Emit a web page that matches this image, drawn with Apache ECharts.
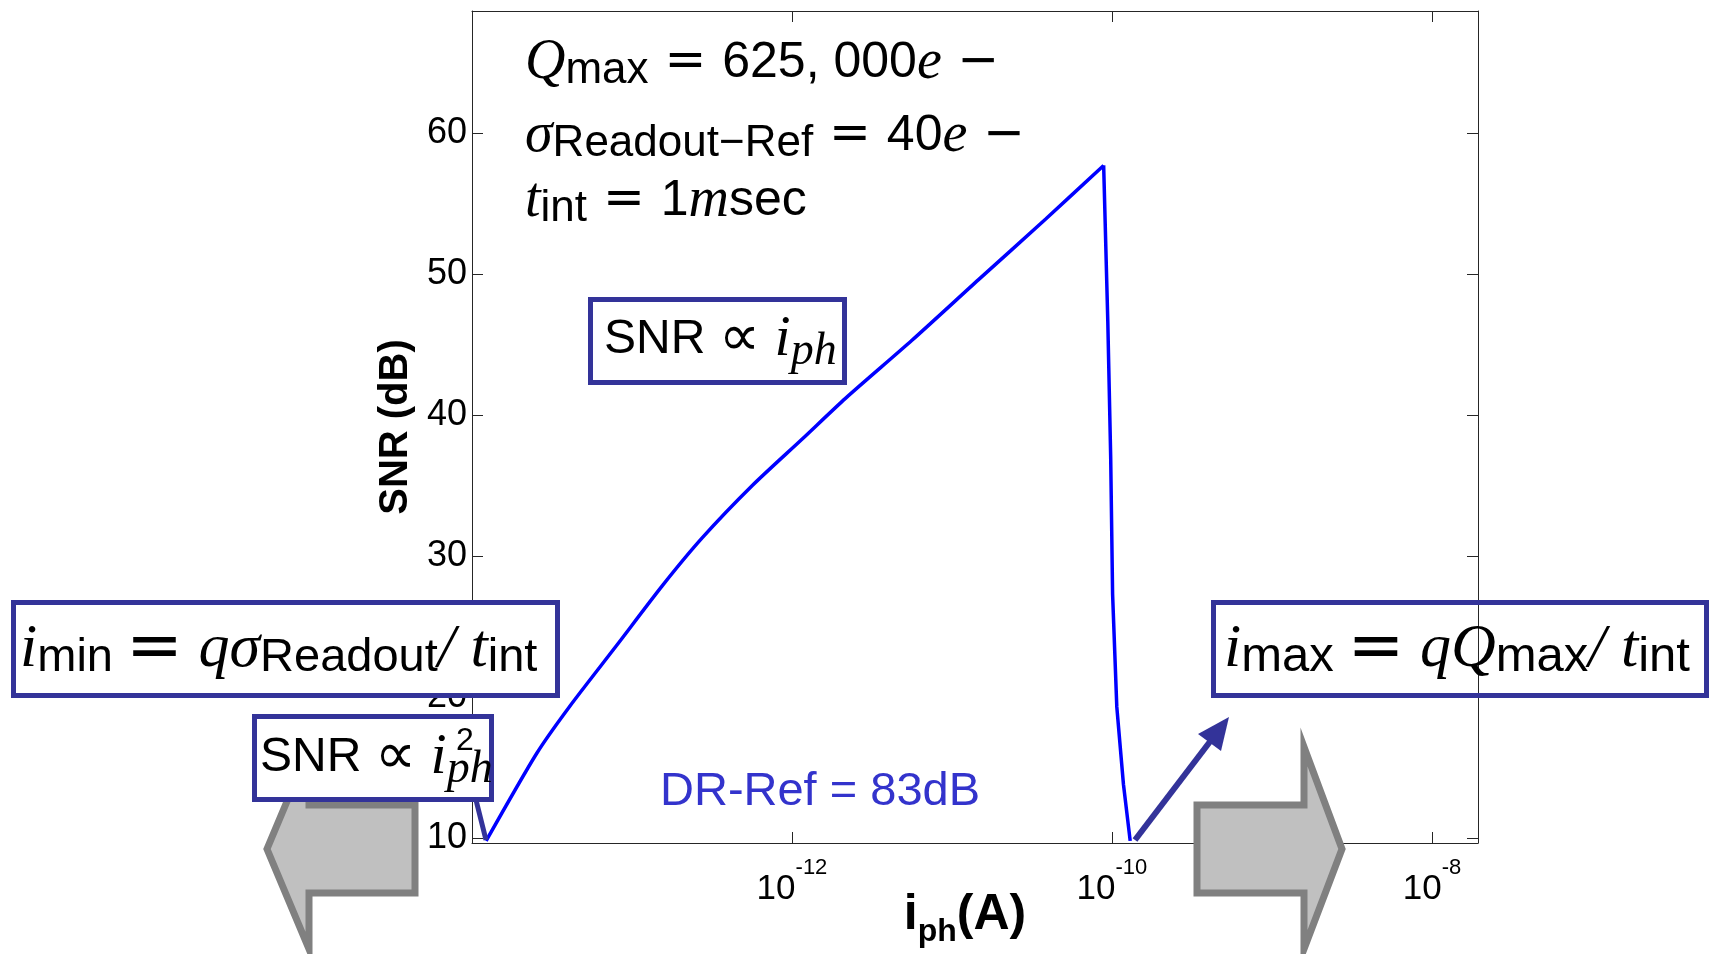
<!DOCTYPE html>
<html>
<head>
<meta charset="utf-8">
<title>SNR vs photocurrent</title>
<script src="https://cdn.jsdelivr.net/npm/echarts@6/dist/echarts.min.js"></script>
<style>
  html, body { margin: 0; padding: 0; background: #fff; }
  #chart { width: 1711px; height: 954px; }
</style>
</head>
<body>
<div id="chart"></div>
<script>
// photocurrent (A) and SNR (dB); index 12 is the peak
var currentA = [1.225e-14, 2.535e-14, 4.055e-14, 7.943e-14, 1.549e-13, 2.754e-13, 5.649e-13,
    1.159e-12, 2.168e-12, 5.623e-12, 1.466e-11, 3.855e-11, 8.872e-11,
    9.419e-11, 9.817e-11, 1.009e-10, 1.072e-10, 1.180e-10, 1.300e-10];
var snrDb = [9.8, 16.0, 19.3, 23.6, 27.9, 31.3, 35.0,
    38.3, 41.2, 45.3, 49.6, 53.9, 57.7,
    46.6, 37.0, 27.3, 19.3, 13.8, 9.8];
var peakIndex = 12;
var xTickValues = [1e-12, 1e-10, 1e-8];
var yTickValues = [10, 20, 30, 40, 50, 60];

var BOX = '#333399';
var SANS = 'Liberation Sans';

function mathRich(it, rm, sub, lh, op) {
    return {
        it: {fontFamily: 'Liberation Serif', fontStyle: 'italic', fontSize: it, lineHeight: lh, verticalAlign: 'middle', color: '#000'},
        rm: {fontFamily: SANS, fontSize: rm, lineHeight: lh, verticalAlign: 'middle', color: '#000'},
        op: {fontFamily: 'DejaVu Sans', fontSize: op || rm, lineHeight: lh, verticalAlign: 'middle', color: '#000'},
        sub: {fontFamily: SANS, fontSize: sub, lineHeight: sub, verticalAlign: 'bottom', color: '#000'},
        isub: {fontFamily: 'Liberation Serif', fontStyle: 'italic', fontSize: sub, lineHeight: sub, verticalAlign: 'bottom', color: '#000'}
    };
}

function mathText(x, y, text, rich) {
    return {
        type: 'text', x: x, y: y, z: 120,
        style: {text: text, rich: rich, align: 'left', verticalAlign: 'middle'}
    };
}

// rising part is drawn smooth, the drop after the peak straight
var rising = [], falling = [];
for (var i = 0; i < currentA.length; i++) {
    if (i <= peakIndex) rising.push([currentA[i], snrDb[i]]);
    if (i >= peakIndex) falling.push([currentA[i], snrDb[i]]);
}

var chart = echarts.init(document.getElementById('chart'));

var axisLineStyle = {color: '#262626', width: 1};

var option = {
    animation: false,
    grid: {left: 472, right: 233, top: 11, bottom: 111, containLabel: false, outerBoundsMode: 'none'},
    xAxis: [{
        type: 'log',
        min: 1e-14,
        max: 1.94e-8,
        axisLine: {show: true, onZero: false, lineStyle: axisLineStyle},
        axisTick: {show: true, inside: true, length: 11, customValues: xTickValues, lineStyle: axisLineStyle},
        minorTick: {show: false},
        splitLine: {show: false},
        axisLabel: {
            customValues: xTickValues,
            margin: 14,
            formatter: function (v) {
                return '{b|10}{s|' + Math.round(Math.log10(v)) + '}';
            },
            rich: {
                b: {fontFamily: SANS, fontSize: 35, lineHeight: 50, verticalAlign: 'bottom', color: '#000'},
                s: {fontFamily: SANS, fontSize: 22, lineHeight: 22, verticalAlign: 'top', color: '#000'}
            }
        },
        name: '{b|i}{s|ph}{b|(A)}',
        nameLocation: 'middle',
        nameGap: 47,
        nameMoveOverlap: false,
        nameTextStyle: {
            padding: [0, 20, 0, 0],
            rich: {
                b: {fontFamily: SANS, fontWeight: 'bold', fontSize: 50, lineHeight: 58, verticalAlign: 'top', color: '#000'},
                s: {fontFamily: SANS, fontWeight: 'bold', fontSize: 32, lineHeight: 32, verticalAlign: 'bottom', color: '#000'}
            }
        }
    }, {
        type: 'log',
        position: 'top',
        min: 1e-14,
        max: 1.94e-8,
        axisLine: {show: true, onZero: false, lineStyle: axisLineStyle},
        axisTick: {show: true, inside: true, length: 11, customValues: xTickValues, lineStyle: axisLineStyle},
        minorTick: {show: false},
        splitLine: {show: false},
        axisLabel: {show: false}
    }],
    yAxis: [{
        type: 'value',
        min: 9.65,
        max: 68.65,
        axisLine: {show: true, lineStyle: axisLineStyle},
        axisTick: {show: true, inside: true, length: 11, customValues: yTickValues, lineStyle: axisLineStyle},
        splitLine: {show: false},
        axisLabel: {customValues: yTickValues, margin: 5, fontFamily: SANS, fontSize: 36, color: '#000'},
        name: 'SNR (dB)',
        nameLocation: 'middle',
        nameGap: 55,
        nameTextStyle: {fontFamily: SANS, fontWeight: 'bold', fontSize: 40, color: '#000'}
    }, {
        type: 'value',
        position: 'right',
        min: 9.65,
        max: 68.65,
        axisLine: {show: true, lineStyle: axisLineStyle},
        axisTick: {show: true, inside: true, length: 11, customValues: yTickValues, lineStyle: axisLineStyle},
        splitLine: {show: false},
        axisLabel: {show: false}
    }],
    series: [{
        type: 'line',
        data: rising,
        showSymbol: false,
        smooth: 0.25,
        lineStyle: {color: '#0000ff', width: 3.5},
        z: 3
    }, {
        type: 'line',
        data: falling,
        showSymbol: false,
        lineStyle: {color: '#0000ff', width: 3.5},
        z: 3
    }],
    graphic: [
        // grey block arrows
        {type: 'polygon', z: 50,
            shape: {points: [[415, 805], [309, 805], [309, 749], [267, 849], [309, 949], [309, 893], [415, 893]]},
            style: {fill: '#c0c0c0', stroke: '#808080', lineWidth: 7}},
        {type: 'polygon', z: 50,
            shape: {points: [[1197, 805], [1304, 805], [1304, 747], [1342, 849], [1304, 949], [1304, 893], [1197, 893]]},
            style: {fill: '#c0c0c0', stroke: '#808080', lineWidth: 7}},
        // callout from SNR ~ i^2 box to curve start
        {type: 'line', z: 90, shape: {x1: 476, y1: 800, x2: 486, y2: 840},
            style: {stroke: BOX, lineWidth: 5}},
        // arrow towards i_max box
        {type: 'line', z: 90, shape: {x1: 1135, y1: 840, x2: 1212, y2: 739},
            style: {stroke: BOX, lineWidth: 6}},
        {type: 'polygon', z: 90, shape: {points: [[1229, 717], [1221, 751], [1198, 734]]},
            style: {fill: BOX}},
        // boxes
        {type: 'rect', z: 100, shape: {x: 13.5, y: 602.5, width: 544, height: 93},
            style: {fill: '#fff', stroke: BOX, lineWidth: 5}},
        {type: 'rect', z: 100, shape: {x: 254.5, y: 716.5, width: 237, height: 83},
            style: {fill: '#fff', stroke: BOX, lineWidth: 5}},
        {type: 'rect', z: 100, shape: {x: 590.5, y: 299.5, width: 254, height: 83},
            style: {fill: '#fff', stroke: BOX, lineWidth: 5}},
        {type: 'rect', z: 100, shape: {x: 1213.5, y: 602.5, width: 493, height: 93},
            style: {fill: 'transparent', stroke: BOX, lineWidth: 5}},
        // parameter text
        mathText(525, 63, '{it|Q}{sub|max}{op| = }{rm|625, 000}{it|e}{op| −}', mathRich(56, 50, 44, 60)),
        mathText(525, 136, '{it|σ}{sub|Readout−Ref}{op| = }{rm|40}{it|e}{op| −}', mathRich(56, 50, 44, 60)),
        mathText(525, 201, '{it|t}{sub|int}{op| = }{rm|1}{it|m}{rm|sec}', mathRich(56, 50, 44, 60)),
        // box text
        mathText(20, 650, '{it|i}{sub|min }{op|=}{it| qσ}{sub|Readout}{it|/ t}{sub|int}', mathRich(62, 56, 47, 64, 68)),
        mathText(1224, 650, '{it|i}{sub|max }{op|=}{it| qQ}{sub|max}{it|/ t}{sub|int}', mathRich(62, 56, 49, 64, 68)),
        mathText(604, 340, '{rm|SNR }{op|∝}{it| i}{isub|ph}', mathRich(58, 48, 46, 70, 58)),
        mathText(260, 758, '{rm|SNR }{op|∝}{it| i}{isub|ph}', mathRich(58, 48, 46, 70, 58)),
        {type: 'text', z: 120, x: 465, y: 741,
            style: {text: '2', fontFamily: SANS, fontSize: 32, fill: '#000', align: 'center', verticalAlign: 'middle'}},
        {type: 'text', z: 60, x: 660, y: 792,
            style: {text: 'DR-Ref = 83dB', fontFamily: SANS, fontSize: 47, fill: '#3333cc', align: 'left', verticalAlign: 'middle'}}
    ]
};

chart.setOption(option);
</script>
</body>
</html>
